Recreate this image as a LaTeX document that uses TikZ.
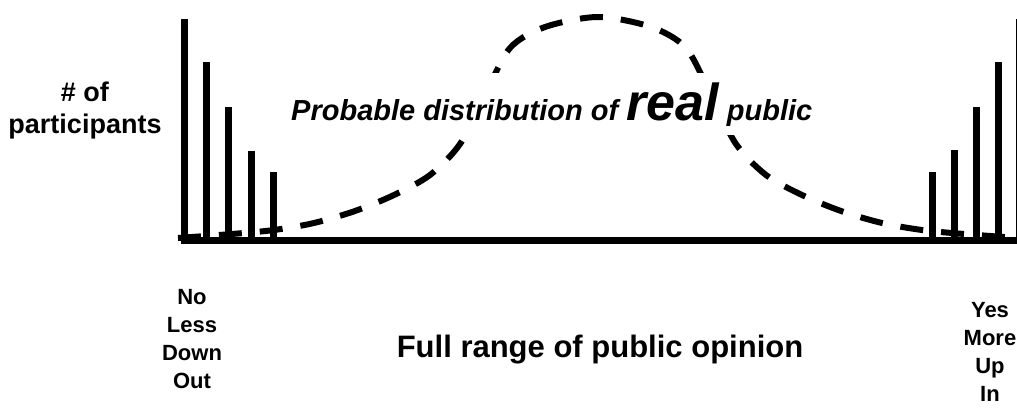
\documentclass[tikz,border=0pt]{standalone}
\usepackage{fontspec}
\setmainfont{Liberation Sans}
\begin{document}
\begin{tikzpicture}[x=1pt,y=-1pt,
    bar/.style={black, line width=7pt},
    lbl/.style={font=\bfseries\fontsize{22}{28}\selectfont, align=center, inner sep=0pt}]
  \useasboundingbox (0,0) rectangle (1017,408);
  \clip (0,0) rectangle (1017,408);
  % probable distribution (dashed bell)
  \draw[black, line width=6pt, dash pattern=on 23pt off 18pt] plot[smooth] coordinates {
    (178,238) (232,234) (274,230) (314,223) (355,211) (394,195) (430,175) (460,144)
    (485,95) (510,48) (545,27) (598,17) (651,27) (686,48) (711,95) (736,144)
    (766,175) (802,195) (841,211) (882,223) (922,230) (964,234) (1018,238)};
  \node[fill=white, inner xsep=4pt, inner ysep=9pt, anchor=base west,
        font=\bfseries\itshape\fontsize{29}{34}\selectfont] (title) at (287,120)
    {Probable distribution of {\fontsize{52}{60}\selectfont real} public};
  % participants at the extremes
  \foreach \x/\h in {184/19, 206/62, 228/107, 251/151, 273/172,
                     932/172, 954/150, 976/107, 998/62, 1019/19}
    \draw[bar] (\x,240) -- (\x,\h);
  \draw[black, line width=7pt] (181,240) -- (1017,240);
  % labels
  \node[font=\bfseries\fontsize{27}{32}\selectfont, align=center, inner sep=0pt] (yaxis) at (85,111) {\# of\\participants};
  \node[lbl] (left) at (192,339) {No\\Less\\Down\\Out};
  \node[lbl] (right) at (990,352) {Yes\\More\\Up\\In};
  \node[font=\bfseries\fontsize{31}{36}\selectfont, inner sep=0pt] (range) at (600,350) {Full range of public opinion};
\end{tikzpicture}
\end{document}
